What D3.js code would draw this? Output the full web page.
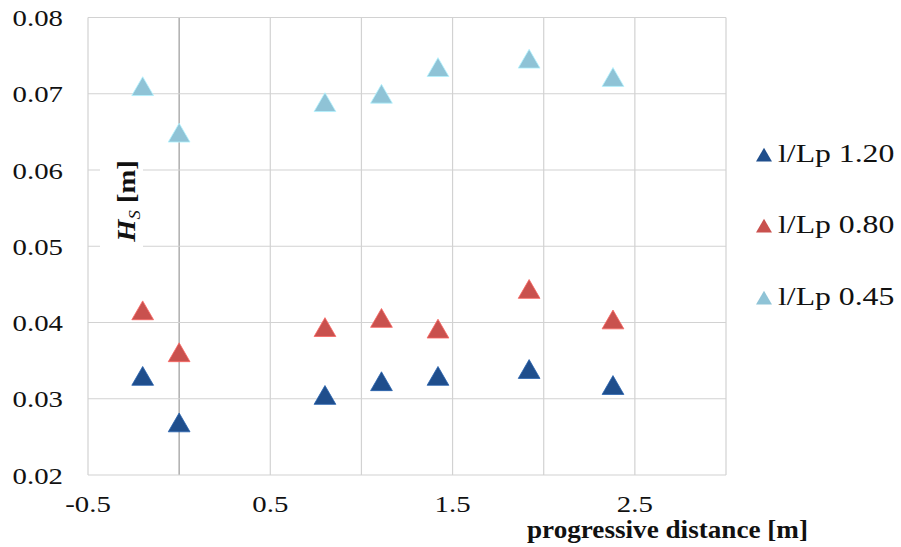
<!DOCTYPE html>
<html>
<head>
<meta charset="utf-8">
<script src="https://cdn.jsdelivr.net/npm/d3@7"></script>
<style>
  body { margin: 0; background: #fff; }
  svg text { fill: #111; }
</style>
</head>
<body>
<div id="chart"></div>
<script>
// data
const distances = [-0.2, 0, 0.8, 1.11, 1.42, 1.92, 2.38]
const hs120 = [0.0330, 0.0269, 0.0305, 0.0323, 0.0330, 0.0339, 0.0318]
const hs080 = [0.0416, 0.0361, 0.0394, 0.0406, 0.0392, 0.0444, 0.0404]
const hs045 = [0.0710, 0.0649, 0.0689, 0.0700, 0.0735, 0.0746, 0.0722]
const seriesNames = ['l/Lp 1.20', 'l/Lp 0.80', 'l/Lp 0.45']
const xTickLabels = [-0.5, 0.5, 1.5, 2.5]
const yTicks = [0.02, 0.03, 0.04, 0.05, 0.06, 0.07, 0.08]

const COLORS = ['#1f4e8c', '#c9514e', '#8fc3d6']
const WIDTH = 901
const HEIGHT = 547
const PLOT = { left: 88, right: 726, top: 17.5, bottom: 475 }
const GRID_COLOR = '#d2d2d2'
const FONT = '"Liberation Serif", "Times New Roman", Times, "DejaVu Serif", serif'
const SX = 1.2 // the picture's text is stretched sideways

const svg = d3.select('#chart').append('svg')
  .attr('width', WIDTH)
  .attr('height', HEIGHT)
  .style('font-family', FONT)

const x = d3.scaleLinear().domain([-0.5, 3]).range([PLOT.left, PLOT.right])
const y = d3.scaleLinear().domain([0.02, 0.08]).range([PLOT.bottom, PLOT.top])

// gridlines
const grid = svg.append('g').attr('stroke-width', 1.2).attr('fill', 'none')
grid.selectAll('line.v')
  .data(d3.range(-0.5, 3.01, 0.5))
  .enter().append('line')
  .attr('x1', d => x(d)).attr('x2', d => x(d))
  .attr('y1', PLOT.top).attr('y2', PLOT.bottom)
  .attr('stroke', d => Math.abs(d) < 1e-9 ? '#9a9a9a' : GRID_COLOR)
grid.selectAll('line.h')
  .data(yTicks)
  .enter().append('line')
  .attr('x1', PLOT.left).attr('x2', PLOT.right)
  .attr('y1', d => y(d)).attr('y2', d => y(d))
  .attr('stroke', GRID_COLOR)

// y tick labels
svg.append('g').selectAll('text')
  .data(yTicks)
  .enter().append('text')
  .attr('font-family', FONT)
  .attr('text-anchor', 'end')
  .attr('font-size', 24)
  .attr('transform', d => 'translate(63,' + (y(d) + 8.5) + ') scale(' + SX + ',1)')
  .text(d => d.toFixed(2))

// x tick labels
svg.append('g').selectAll('text')
  .data(xTickLabels)
  .enter().append('text')
  .attr('font-family', FONT)
  .attr('text-anchor', 'middle')
  .attr('font-size', 24)
  .attr('transform', d => 'translate(' + x(d) + ',512) scale(' + SX + ',1)')
  .text(d => d)

// y axis title sits on a white box over the grid
svg.append('rect')
  .attr('x', 100).attr('y', 156)
  .attr('width', 43).attr('height', 96)
  .attr('fill', '#fff')
const yTitle = svg.append('text')
  .attr('font-family', FONT)
  .attr('transform', 'translate(135,201) rotate(-90) scale(1.1,1)')
  .attr('text-anchor', 'middle')
  .attr('font-size', 26)
  .attr('font-weight', 'bold')
yTitle.append('tspan').attr('font-style', 'italic').text('H')
yTitle.append('tspan').attr('font-style', 'italic').attr('font-weight', 'normal')
  .attr('font-size', 17).attr('dy', 5).text('S')
yTitle.append('tspan').attr('dy', -5).text(' [m]')

// x axis title
svg.append('text')
  .attr('font-family', FONT)
  .attr('x', 527).attr('y', 538)
  .attr('font-size', 25)
  .attr('font-weight', 'bold')
  .attr('textLength', 281)
  .attr('lengthAdjust', 'spacingAndGlyphs')
  .text('progressive distance [m]')

// markers
const series = [hs120, hs080, hs045]
const MARKER_AREA = 205
const markerH = Math.sqrt(MARKER_AREA * Math.sqrt(3)) // triangle height
const tri = d3.symbol().type(d3.symbolTriangle).size(MARKER_AREA)
series.forEach(function (values, i) {
  svg.append('g').selectAll('path')
    .data(values)
    .enter().append('path')
    .attr('d', tri)
    .attr('fill', COLORS[i])
    .attr('stroke', d3.color(COLORS[i]).brighter(0.6))
    .attr('stroke-width', 0.8)
    .attr('transform', (d, j) => 'translate(' + x(distances[j]) + ',' + (y(d) + markerH / 6) + ')')
})

// legend
const legendY = [155, 226, 298]
const legend = svg.append('g')
const legendTri = d3.symbol().type(d3.symbolTriangle).size(110)
seriesNames.forEach(function (name, i) {
  legend.append('path')
    .attr('d', legendTri)
    .attr('fill', COLORS[i])
    .attr('transform', 'translate(764,' + (legendY[i] + 2) + ')')
  legend.append('text')
    .attr('font-family', FONT)
    .attr('font-size', 25)
    .attr('transform', 'translate(778,' + (legendY[i] + 7) + ') scale(1.27,1)')
    .text(name)
})
</script>
</body>
</html>
